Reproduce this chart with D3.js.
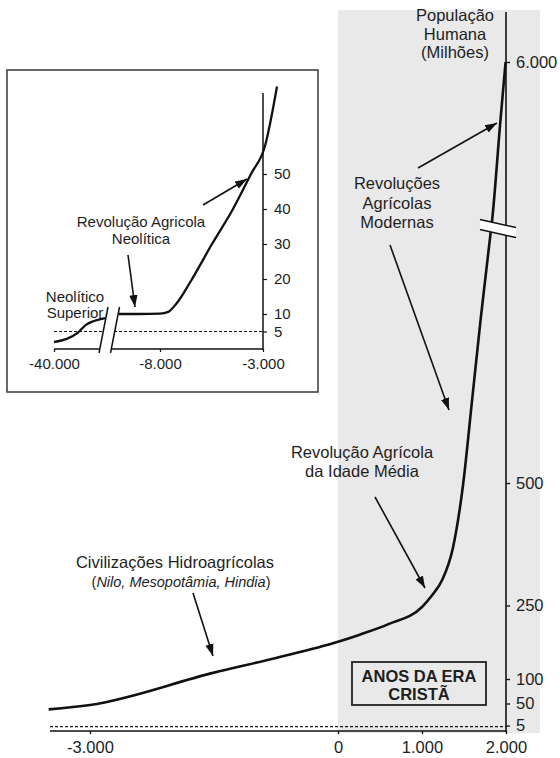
<!DOCTYPE html>
<html><head><meta charset="utf-8">
<script src="https://cdn.jsdelivr.net/npm/d3@7"></script>
<style>
body{margin:0;background:#fff}
svg{display:block}
text{font-family:"Liberation Sans",Arial,sans-serif;fill:#1e1e1e}
</style>
</head><body>
<svg id="c" width="560" height="758"></svg>
<script>
// ---- main chart data (years of the Christian era, population in millions)
const mainYears = [-3500, -3000, -1500, -750, 0, 250, 600, 1000, 1120, 1240, 1370, 1490, 1595, 1700, 1810, 1835, 1930, 1995];
const mainPop   = [38, 47, 113, 143, 176, 190, 212, 247, 271, 302, 369, 498, 667, 837, 1006, 1500, 4230, 6000];
const xTickValues = [-3000, 0, 1000, 2000];
const xTickLabels = ["-3.000", "0", "1.000", "2.000"];
const yTickValues = [5, 50, 100, 250, 500, 6000];
const yTickLabels = ["5", "50", "100", "250", "500", "6.000"];
const referenceLevel = 5;

// ---- inset data
const insetYearsA = [-40000, -33000, -27000, -22500, -18000, -12000];
const insetPopA   = [2, 2.9, 4.6, 6.9, 8, 8.8];
const insetYearsB = [-10000, -9000, -8000, -7600, -7200, -6544, -5476, -4456, -3583, -2903, -2320];
const insetPopB   = [10, 10, 10.1, 10.6, 13, 19, 30, 40, 50, 58, 75];
const insetXTickValues = [-40000, -8000, -3000];
const insetXTickLabels = ["-40.000", "-8.000", "-3.000"];
const insetYTickValues = [5, 10, 20, 30, 40, 50];
const insetYTickLabels = ["5", "10", "20", "30", "40", "50"];

const svg = d3.select("#c");
const FS = 16.5;

// scales (broken axes -> piecewise)
const x = d3.scaleLinear().domain([-3000, 0, 2000]).range([90, 338, 506]);
const y = d3.scaleLinear().domain([0, 1000, 1500, 6000]).range([728, 238, 220, 62]);

const xi = d3.scaleLinear().domain([-40000, -12000, -10000, -8000, -3000]).range([54, 105, 119, 160, 263]);
const yi = d3.scaleLinear().domain([0, 75]).range([349, 86.5]);

// arrow marker
const defs = svg.append("defs");
defs.append("marker").attr("id", "ah").attr("markerUnits", "userSpaceOnUse")
  .attr("viewBox", "0 -5 12 10").attr("refX", 12).attr("refY", 0)
  .attr("markerWidth", 12).attr("markerHeight", 10).attr("orient", "auto")
  .append("path").attr("d", "M0,-4.2L12,0L0,4.2Z").attr("fill", "#111");

function arrow(g, x1, y1, x2, y2) {
  g.append("line").attr("x1", x1).attr("y1", y1).attr("x2", x2).attr("y2", y2)
    .attr("stroke", "#111").attr("stroke-width", 1.6).attr("marker-end", "url(#ah)");
}
function label(g, lines, cx, y0, dy, size) {
  lines.forEach((t, i) => {
    g.append("text").attr("x", cx).attr("y", y0 + i * dy).attr("text-anchor", "middle")
      .attr("font-size", size).text(t);
  });
}

// gray region: Christian era
svg.append("rect").attr("x", x(0)).attr("y", 10).attr("width", 540 - x(0)).attr("height", 723)
  .attr("fill", "#e9e9e9");

// main reference dashed line
svg.append("line").attr("x1", 50).attr("x2", x(2000)).attr("y1", y(referenceLevel) + 1).attr("y2", y(referenceLevel) + 1)
  .attr("stroke", "#111").attr("stroke-width", 1.3).attr("stroke-dasharray", "3,2");

// bottom axis
const gx = svg.append("g").attr("transform", "translate(0,731)")
  .call(d3.axisBottom(x).tickValues(xTickValues).tickFormat((d, i) => xTickLabels[i]).tickSize(3).tickPadding(7));
gx.select(".domain").remove();
gx.selectAll(".tick line").attr("stroke", "#111").attr("stroke-width", 1.3);
gx.selectAll(".tick text").attr("font-size", FS).attr("font-family", "Liberation Sans, Arial, sans-serif").attr("fill", "#1e1e1e");
svg.append("line").attr("x1", 50).attr("x2", x(2000) + 0.8).attr("y1", 731).attr("y2", 731)
  .attr("stroke", "#111").attr("stroke-width", 1.6);

// right axis
const gy = svg.append("g").attr("transform", `translate(${x(2000)},0)`)
  .call(d3.axisRight(y).tickValues(yTickValues).tickFormat((d, i) => yTickLabels[i]).tickSize(4).tickPadding(6));
gy.select(".domain").remove();
gy.selectAll(".tick line").attr("stroke", "#111").attr("stroke-width", 1.3);
gy.selectAll(".tick text").attr("font-size", FS).attr("font-family", "Liberation Sans, Arial, sans-serif").attr("fill", "#1e1e1e");
svg.append("line").attr("x1", x(2000)).attr("x2", x(2000)).attr("y1", 12).attr("y2", 731.8)
  .attr("stroke", "#111").attr("stroke-width", 1.6);

// main curve
const mainData = mainYears.map((d, i) => [d, mainPop[i]]);
svg.append("path").datum(mainData)
  .attr("d", d3.line().x(d => x(d[0])).y(d => y(d[1])).curve(d3.curveMonotoneX))
  .attr("fill", "none").attr("stroke", "#111").attr("stroke-width", 2.6).attr("stroke-linejoin", "round");

// axis break (main)
{
  const bx = x(2000), by = (y(1000) + y(1500)) / 2;
  const p1 = [bx - 26, by - 9.5], p2 = [bx + 10, by - 1.5], p3 = [bx + 10, by + 8.5], p4 = [bx - 26, by + 0.5];
  svg.append("path").attr("d", `M${p1}L${p2}L${p3}L${p4}Z`).attr("fill", "#fff");
  svg.append("line").attr("x1", p1[0]).attr("y1", p1[1]).attr("x2", p2[0]).attr("y2", p2[1]).attr("stroke", "#111").attr("stroke-width", 1.5);
  svg.append("line").attr("x1", p4[0]).attr("y1", p4[1]).attr("x2", p3[0]).attr("y2", p3[1]).attr("stroke", "#111").attr("stroke-width", 1.5);
}

// era box
svg.append("rect").attr("x", 352).attr("y", 662).attr("width", 134).attr("height", 43)
  .attr("fill", "none").attr("stroke", "#222").attr("stroke-width", 1.8);
["ANOS DA ERA", "CRISTÃ"].forEach((t, i) => {
  svg.append("text").attr("x", 419).attr("y", 682 + i * 18).attr("text-anchor", "middle")
    .attr("font-size", 16.5).attr("font-weight", "bold").text(t);
});

// main annotations
label(svg, ["População", "Humana", "(Milhões)"], 455, 21, 18.5, FS);
label(svg, ["Revoluções", "Agrícolas", "Modernas"], 397, 189, 19.5, FS);
label(svg, ["Revolução Agrícola", "da Idade Média"], 362, 458, 18.5, FS);
svg.append("text").attr("x", 175).attr("y", 568).attr("text-anchor", "middle").attr("font-size", 16.5)
  .text("Civilizações Hidroagrícolas");
{
  const t = svg.append("text").attr("x", 181).attr("y", 587).attr("text-anchor", "middle").attr("font-size", 14.5);
  t.append("tspan").text("(");
  t.append("tspan").attr("font-style", "italic").text("Nilo, Mesopotâmia, Hindia");
  t.append("tspan").text(")");
}
arrow(svg, 418, 168, 497, 123);
arrow(svg, 390, 245, 449, 410);
arrow(svg, 375, 497, 425, 588);
arrow(svg, 193, 593, 213, 656);

// ---------------- inset ----------------
const ins = svg.append("g");
ins.append("rect").attr("x", 7).attr("y", 70).attr("width", 311).attr("height", 322)
  .attr("fill", "#fff").attr("stroke", "#444").attr("stroke-width", 1.6);

// dashed reference line
ins.append("line").attr("x1", xi(-40000)).attr("x2", xi(-3000)).attr("y1", yi(5)).attr("y2", yi(5))
  .attr("stroke", "#111").attr("stroke-width", 1.2).attr("stroke-dasharray", "3,2");

// x axis
const gix = ins.append("g").attr("transform", `translate(0,${yi(0)})`)
  .call(d3.axisBottom(xi).tickValues(insetXTickValues).tickFormat((d, i) => insetXTickLabels[i]).tickSize(3).tickPadding(6));
gix.select(".domain").remove();
gix.selectAll(".tick line").attr("stroke", "#111").attr("stroke-width", 1.2);
gix.selectAll(".tick text").attr("font-size", 15).attr("font-family", "Liberation Sans, Arial, sans-serif").attr("fill", "#1e1e1e");
ins.append("line").attr("x1", xi(-40000)).attr("x2", xi(-3000)).attr("y1", yi(0)).attr("y2", yi(0))
  .attr("stroke", "#111").attr("stroke-width", 1.5);

// y axis
const giy = ins.append("g").attr("transform", `translate(${xi(-3000)},0)`)
  .call(d3.axisRight(yi).tickValues(insetYTickValues).tickFormat((d, i) => insetYTickLabels[i]).tickSize(4).tickPadding(7));
giy.select(".domain").remove();
giy.selectAll(".tick line").attr("stroke", "#111").attr("stroke-width", 1.2);
giy.selectAll(".tick text").attr("font-size", 15).attr("font-family", "Liberation Sans, Arial, sans-serif").attr("fill", "#1e1e1e");
ins.append("line").attr("x1", xi(-3000)).attr("x2", xi(-3000)).attr("y1", 93).attr("y2", yi(0) + 0.7)
  .attr("stroke", "#111").attr("stroke-width", 1.5);

// inset curves
const lineI = d3.line().x(d => xi(d[0])).y(d => yi(d[1])).curve(d3.curveMonotoneX);
ins.append("path").datum(insetYearsA.map((d, i) => [d, insetPopA[i]])).attr("d", lineI)
  .attr("fill", "none").attr("stroke", "#111").attr("stroke-width", 2.3);
ins.append("path").datum(insetYearsB.map((d, i) => [d, insetPopB[i]])).attr("d", lineI)
  .attr("fill", "none").attr("stroke", "#111").attr("stroke-width", 2.3);

// inset axis break
{
  const q1 = [99, yi(0) + 4], q2 = [108, 307], q3 = [119.5, 307], q4 = [110.5, yi(0) + 4];
  ins.append("path").attr("d", `M${q1}L${q2}L${q3}L${q4}Z`).attr("fill", "#fff");
  ins.append("line").attr("x1", q1[0]).attr("y1", q1[1]).attr("x2", q2[0]).attr("y2", q2[1]).attr("stroke", "#111").attr("stroke-width", 1.5);
  ins.append("line").attr("x1", q4[0]).attr("y1", q4[1]).attr("x2", q3[0]).attr("y2", q3[1]).attr("stroke", "#111").attr("stroke-width", 1.5);
}

// inset annotations
label(ins, ["Revolução Agricola", "Neolítica"], 141, 227, 16.5, 15);
label(ins, ["Neolítico", "Superior"], 75, 302, 15.5, 15);
arrow(ins, 128, 255, 135, 307);
arrow(ins, 203, 205, 247, 179);
</script>
</body></html>
